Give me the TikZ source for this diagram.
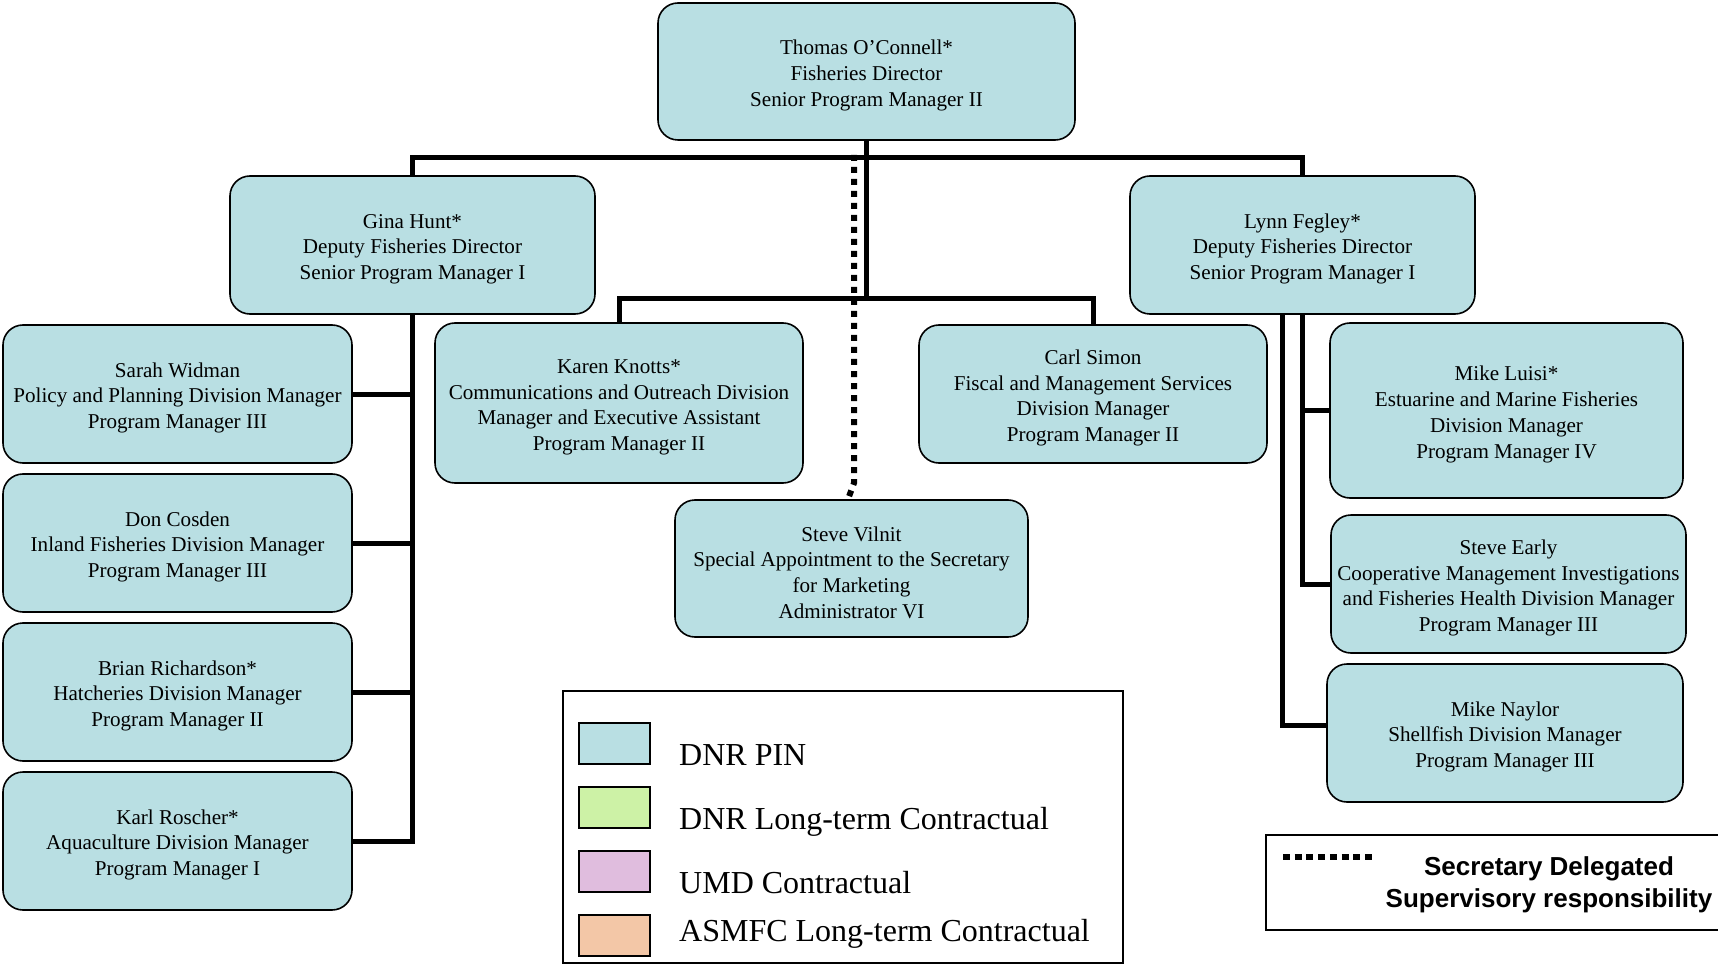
\documentclass[tikz,border=0pt]{standalone}
\usepackage{fontspec}
\setmainfont{Liberation Serif}
\newfontfamily\legsans{Liberation Sans}
\newcommand\boxlift{\rule{0pt}{22.5pt}}
\definecolor{boxblue}{RGB}{185,223,227}
\definecolor{leggreen}{RGB}{205,242,166}
\definecolor{legpurple}{RGB}{224,189,222}
\definecolor{legorange}{RGB}{243,199,167}
\tikzset{
  orgbox/.style={draw=black, line width=1.6pt, fill=boxblue, rounded corners=20pt,
    align=center, inner sep=1pt, font=\fontsize{21.1}{25.7}\selectfont},
  conn/.style={line width=5pt},
  dotline/.style={line width=6pt, dash pattern=on 6pt off 6pt},
  swatch/.style={draw=black, line width=2pt, minimum width=71pt, minimum height=41pt, inner sep=0pt},
  legtext/.style={anchor=base west, inner sep=0pt, font=\fontsize{32}{38}\selectfont},
}
\begin{document}
\begin{tikzpicture}[x=1pt,y=-1pt]
\useasboundingbox (0,0) rectangle (1718,965);
% boxes
\node[orgbox, minimum width=417pt, minimum height=137pt] (top) at (866.5,71.5)
  {\boxlift Thomas O’Connell*\\Fisheries Director\\Senior Program Manager II};
\node[orgbox, minimum width=365pt, minimum height=138pt] (gina) at (412.5,245)
  {\boxlift Gina Hunt*\\Deputy Fisheries Director\\Senior Program Manager I};
\node[orgbox, minimum width=345pt, minimum height=138pt] (lynn) at (1302.5,245)
  {\boxlift Lynn Fegley*\\Deputy Fisheries Director\\Senior Program Manager I};
\node[orgbox, minimum width=349pt, minimum height=138pt] (sarah) at (177.5,394)
  {\boxlift Sarah Widman\\Policy and Planning Division Manager\\Program Manager III};
\node[orgbox, minimum width=349pt, minimum height=138pt] (don) at (177.5,543)
  {\boxlift Don Cosden\\Inland Fisheries Division Manager\\Program Manager III};
\node[orgbox, minimum width=349pt, minimum height=138pt] (brian) at (177.5,692)
  {\boxlift Brian Richardson*\\Hatcheries Division Manager\\Program Manager II};
\node[orgbox, minimum width=349pt, minimum height=138pt] (karl) at (177.5,841)
  {\boxlift Karl Roscher*\\Aquaculture Division Manager\\Program Manager I};
\node[orgbox, minimum width=368pt, minimum height=160pt] (karen) at (619,403)
  {\boxlift Karen Knotts*\\Communications and Outreach Division\\Manager and Executive Assistant\\Program Manager II};
\node[orgbox, minimum width=348pt, minimum height=138pt] (carl) at (1093,394)
  {\boxlift Carl Simon\\Fiscal and Management Services\\Division Manager\\Program Manager II};
\node[orgbox, minimum width=353pt, minimum height=137pt] (vilnit) at (851.5,568.5)
  {\boxlift Steve Vilnit\\Special Appointment to the Secretary\\for Marketing\\Administrator VI};
\node[orgbox, minimum width=353pt, minimum height=175pt] (luisi) at (1506.5,410.5)
  {\boxlift Mike Luisi*\\Estuarine and Marine Fisheries\\Division Manager\\Program Manager IV};
\node[orgbox, minimum width=355pt, minimum height=138pt] (early) at (1508.5,584)
  {\boxlift Steve Early\\Cooperative Management Investigations\\and Fisheries Health Division Manager\\Program Manager III};
\node[orgbox, minimum width=356pt, minimum height=138pt] (naylor) at (1505,733)
  {\boxlift Mike Naylor\\Shellfish Division Manager\\Program Manager III};
% junctions
\coordinate (j1) at (866.5,158);
\coordinate (j2) at (866.5,299);
\coordinate (d0) at (854,155);
\coordinate (d1) at (854,483);
% connectors
\draw[conn] (top.south) -- (j2);
\draw[conn] (gina.north) |- (j1) -| (lynn.north);
\draw[conn] (karen.north) |- (j2) -| (carl.north);
\draw[conn] (gina.south) |- (karl.east);
\draw[conn] (sarah.east) -- (sarah.east -| gina.south);
\draw[conn] (don.east) -- (don.east -| gina.south);
\draw[conn] (brian.east) -- (brian.east -| gina.south);
\draw[conn] (lynn.south) |- (early.west);
\draw[conn] (luisi.west) -- (luisi.west -| lynn.south);
\draw[conn] ([xshift=-20.5pt]lynn.south) |- ([yshift=8pt]naylor.west);
\draw[dotline] (d0) -- (d1) -- ([xshift=-3.5pt]vilnit.north);
% legend
\node[draw=black, line width=2pt, minimum width=560pt, minimum height=272pt, inner sep=0pt] (legend) at (843,827) {};
\node[swatch, fill=boxblue] (s1) at (614.5,743.5) {};
\node[swatch, fill=leggreen] (s2) at (614.5,807) {};
\node[swatch, fill=legpurple] (s3) at (614.5,871.5) {};
\node[swatch, fill=legorange] (s4) at (614.5,935) {};
\node[legtext] (t1) at (679,765) {DNR PIN};
\node[legtext] (t2) at (679,829) {DNR Long-term Contractual};
\node[legtext] (t3) at (679,893) {UMD Contractual};
\node[legtext] (t4) at (679,941) {ASMFC Long-term Contractual};
% secretary legend
\draw[line width=2pt] (1718,835) -- (1266,835) -- (1266,930) -- (1718,930);
\coordinate (e0) at (1283,857);
\coordinate (e1) at (1372,857);
\draw[line width=5.5pt, dash pattern=on 7pt off 4.7pt] (e0) -- (e1);
\node[align=center, inner sep=0pt, font=\legsans\bfseries\fontsize{26}{31.5}\selectfont] (sec) at (1549,885)
  {Secretary Delegated\\Supervisory responsibility};
\end{tikzpicture}
\end{document}
